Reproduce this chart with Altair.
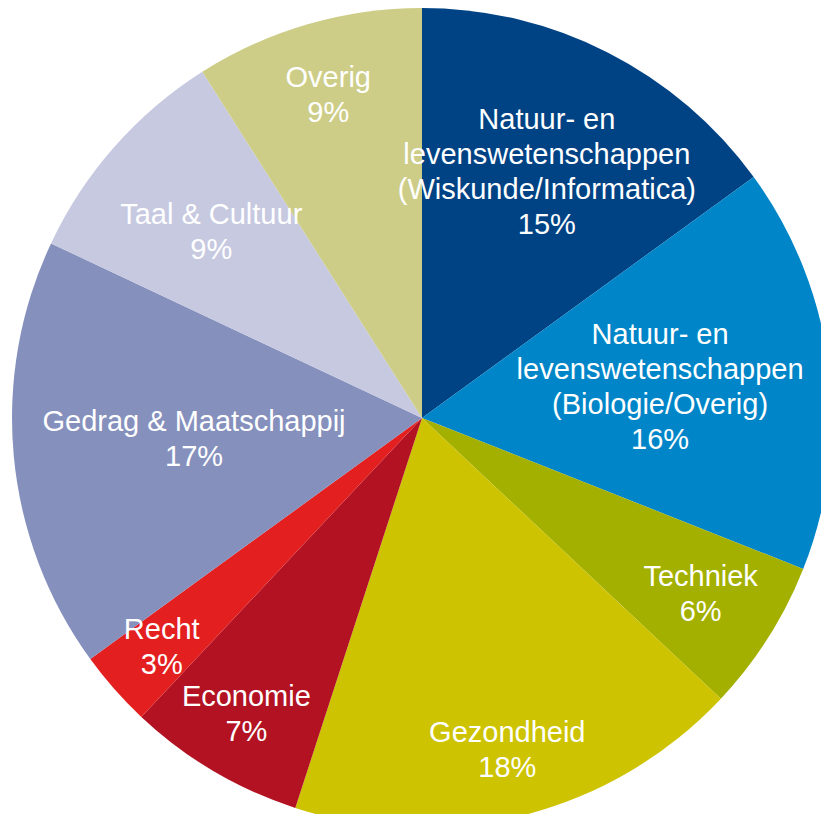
import math
import altair as alt
import pandas as pd

# ---- data ----
categories = [
    "Natuur- en\nlevenswetenschappen\n(Wiskunde/Informatica)",
    "Natuur- en\nlevenswetenschappen\n(Biologie/Overig)",
    "Techniek",
    "Gezondheid",
    "Economie",
    "Recht",
    "Gedrag & Maatschappij",
    "Taal & Cultuur",
    "Overig",
]
values = [15, 16, 6, 18, 7, 3, 17, 9, 9]
colors = ["#004385", "#0086c8", "#a3b000", "#cdc300", "#b31223",
          "#e31f1f", "#8590bd", "#c6c9e0", "#cdcd88"]

# ---- layout parameters ----
R = 410            # pie radius
FS = 29            # label font size
LH = 35            # label line height
CHAR_W = 14        # rough glyph width used for label fitting
MARGIN = 34        # keep labels this far inside the rim
CX, CY = 414, 410  # pie centre within the plot area


def fit_radius(lines, ang):
    """Largest label radius for which every text line stays inside the pie."""
    sx, cy = math.sin(ang), -math.cos(ang)
    n = len(lines)
    for r in range(380, 0, -1):
        ok = True
        for i, ln in enumerate(lines):
            hw = len(ln) * CHAR_W / 2
            off = (i - (n - 1) / 2) * LH
            for dx in (-hw, hw):
                for dy in (-10, 10):
                    if math.hypot(r * sx + dx, r * cy + off + dy) > R - MARGIN:
                        ok = False
        if ok:
            return r
    return 0


total = sum(values)
rows = []
cum = 0
for i, (c, v) in enumerate(zip(categories, values)):
    text = f"{c}\n{v}%"
    lines = text.split("\n")
    mid = (cum + v / 2) / total * 2 * math.pi
    rows.append({"idx": i, "cat": c, "value": v, "label": text,
                 "nlines": len(lines), "lr": fit_radius(lines, mid)})
    cum += v
df = pd.DataFrame(rows)

pie = alt.Chart(df).mark_arc(outerRadius=R, stroke=None).encode(
    theta=alt.Theta("value:Q", stack=True),
    order=alt.Order("idx:Q"),
    color=alt.Color("cat:N", scale=alt.Scale(domain=categories, range=colors),
                    legend=None, sort=None),
    x=alt.value(CX),
    y=alt.value(CY),
)

label_base = alt.Chart(df).transform_joinaggregate(
    total="sum(value)"
).transform_window(
    cum="sum(value)", sort=[alt.SortField("idx")],
    frame=[None, 0],
).transform_calculate(
    midfrac="(datum.cum - datum.value / 2) / datum.total"
).encode(
    theta=alt.Theta("midfrac:Q", stack=False,
                    scale=alt.Scale(domain=[0, 1], range=[0, 2 * math.pi])),
    radius=alt.Radius("lr:Q", scale=None),
    text="label:N",
    x=alt.value(CX),
    y=alt.value(CY),
)


def label_layer(n):
    # Vega anchors the first line; shift so the whole block is centred
    return label_base.transform_filter(f"datum.nlines == {n}").mark_text(
        font="Liberation Sans", fontSize=FS, color="white",
        lineBreak="\n", lineHeight=LH, align="center", baseline="middle",
        dy=-(n - 1) * LH / 2,
    )


layers = [pie] + [label_layer(n) for n in sorted(df["nlines"].unique())]

chart = alt.layer(*layers).resolve_scale(theta="independent").properties(
    width=813, height=806, padding=0, autosize="none",
).configure_view(stroke=None)

chart.save("out.html", embed_options={"renderer": "svg", "actions": False})
